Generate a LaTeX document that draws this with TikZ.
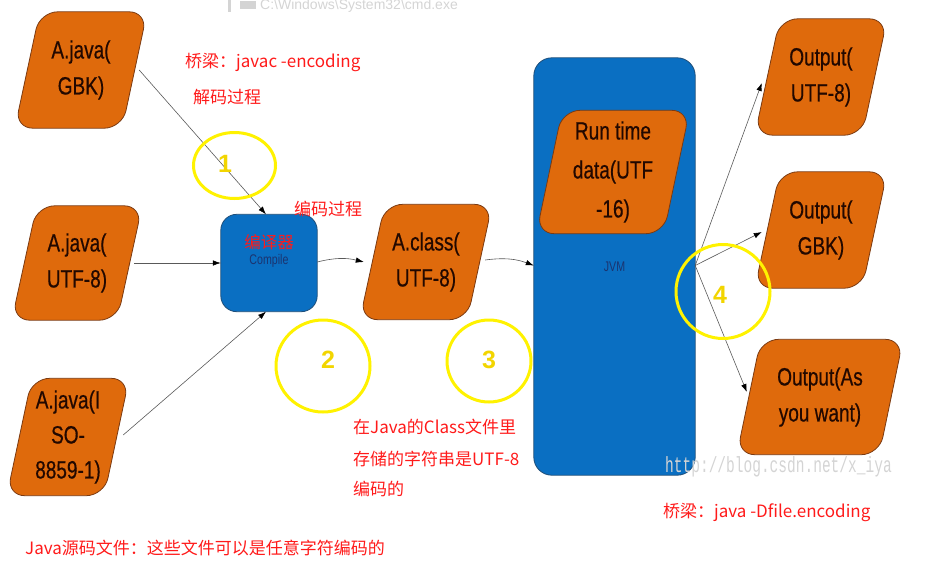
\documentclass[tikz,border=0pt]{standalone}
\usepackage{fontspec}
\setmainfont{Liberation Sans}
\newfontfamily\narrowfont[FakeStretch=0.76,FakeBold=0.5]{Liberation Sans}
\newfontfamily\smallnarrow[FakeStretch=0.76]{Liberation Sans}
\newfontfamily\cjkfont{Noto Sans CJK SC}
\newfontfamily\wmfont[FakeStretch=0.66]{Liberation Mono}
\usetikzlibrary{calc,arrows.meta,backgrounds}
\definecolor{paraorange}{HTML}{DF6A0C}
\definecolor{parabrown}{HTML}{7A3A12}
\definecolor{boxblue}{HTML}{0A6FC2}
\definecolor{boxedge}{HTML}{1F4E79}
\definecolor{notered}{HTML}{FF1A1A}
\definecolor{ringyellow}{HTML}{FFF200}
\definecolor{numyellow}{HTML}{F2D500}
\definecolor{navytext}{HTML}{1B3470}
\definecolor{textdark}{HTML}{220800}
\definecolor{faintgray}{HTML}{D4D4D4}
\tikzset{
  paranode/.style={inner sep=0pt, align=center, text=textdark,
    font=\narrowfont\fontsize{25}{36}\selectfont},
  parafill/.style={fill=paraorange, draw=parabrown, line width=0.8pt, rounded corners=18pt},
  bluebox/.style={fill=boxblue, draw=boxedge, line width=0.8pt},
  conn/.style={draw=black!65, line width=0.6pt, -{Latex[length=8pt,width=5.5pt,color=black]}},
  ring/.style={draw=ringyellow, line width=3pt},
  num/.style={text=numyellow, font=\bfseries\fontsize{25}{25}\selectfont},
  note/.style={text=notered, font=\cjkfont\fontsize{17}{20}\selectfont, anchor=west, inner sep=0pt},
  smalllbl/.style={text=navytext, font=\smallnarrow\fontsize{14}{16}\selectfont, inner sep=0pt},
}
\newcommand\parashape[2][25]{\path[parafill] ($(#2.north west)+(#1,0)$) -- (#2.north east) -- ($(#2.south east)+(-#1,0)$) -- (#2.south west) -- cycle;}
\begin{document}
\begin{tikzpicture}[x=1pt,y=-1pt]
\useasboundingbox (0,0) rectangle (946,568);

% faint screenshot residue
\fill[faintgray] (228,0) rectangle (231,12);
\fill[faintgray] (240,1) rectangle (256,9);
\node[text=faintgray, font=\fontsize{14}{16}\selectfont, anchor=west, inner sep=0pt] (cmdtxt) at (260,6) {C:\textbackslash Windows\textbackslash System32\textbackslash cmd.exe};

% source files
\node[paranode, minimum width=132pt, minimum height=116pt] (gbk) at (81,70) {A.java(\\GBK)};
\node[paranode, minimum width=130pt, minimum height=114pt] (utf) at (77,263) {A.java(\\UTF-8)};
\node[paranode, minimum width=122pt, minimum height=117pt, font=\narrowfont\fontsize{25}{35}\selectfont] (iso) at (68,437) {A.java(I\\SO-\\8859-1)};

% compiler
\node[minimum width=96pt, minimum height=97pt, inner sep=0pt] (comp) at (269,263) {};
\node[align=center, inner sep=0pt] (comptxt) at ([yshift=12pt]comp.center)
  {{\cjkfont\color{notered}\fontsize{16.5}{18}\selectfont 编译器}\\[4pt]{\smallnarrow\color{navytext}\fontsize{14}{16}\selectfont Compile}};

% class file
\node[paranode, minimum width=132pt, minimum height=115pt] (cls) at (426,262) {A.class(\\UTF-8)};

% JVM
\node[smalllbl, minimum width=161pt, minimum height=417pt] (jvm) at (614.5,266.5) {JVM};
\node[paranode, minimum width=153pt, minimum height=123pt, font=\narrowfont\fontsize{25}{39}\selectfont] (rt) at (613,172) {Run time\\data(UTF\\-16)};

% outputs
\node[paranode, minimum width=132pt, minimum height=116pt] (out1) at (821,77) {Output(\\UTF-8)};
\node[paranode, minimum width=132pt, minimum height=116pt] (out2) at (821,230) {Output(\\GBK)};
\node[paranode, minimum width=166pt, minimum height=115pt] (out3) at (820,397) {Output(As\\you want)};

\begin{scope}[on background layer]
  \path[bluebox, rounded corners=16pt] (comp.north west) rectangle (comp.south east);
  \path[bluebox, rounded corners=18pt] (jvm.north west) rectangle (jvm.south east);
  \parashape{gbk}
  \parashape{utf}
  \parashape{iso}
  \parashape{cls}
  \parashape[26]{rt}
  \parashape{out1}
  \parashape{out2}
  \parashape[24]{out3}
\end{scope}

% connectors
\draw[conn] ([xshift=-8pt]gbk.east) -- ([xshift=-3pt]comp.north);
\draw[conn] ([xshift=-8pt]utf.east) -- (comp.west);
\draw[conn] ([xshift=-6pt,yshift=2pt]iso.east) -- ([xshift=-3pt]comp.south);
\draw[conn] ([yshift=1pt]comp.east) to[bend left=14] ([xshift=4pt]cls.west);
\draw[conn] ([xshift=-7pt,yshift=2pt]cls.east) to[bend left=14] ([yshift=1pt]jvm.west);
\draw[conn] ([yshift=1pt]jvm.east) -- ([xshift=7pt,yshift=-6pt]out1.west);
\draw[conn] ([yshift=1pt]jvm.east) -- ([xshift=7pt,yshift=-2pt]out2.west);
\draw[conn] ([yshift=1pt]jvm.east) -- ([xshift=10pt,yshift=5pt]out3.west);

% yellow rings and numbers
\draw[ring] (234.5,165.5) ellipse [x radius=41pt, y radius=33pt];
\draw[ring] (323,366) ellipse [x radius=47pt, y radius=46pt];
\draw[ring] (489,361) ellipse [x radius=42pt, y radius=41pt];
\draw[ring] (723,291.5) ellipse [x radius=47pt, y radius=47pt];
\node[num] (n1) at (225,164) {1};
\node[num] (n2) at (328,360) {2};
\node[num] (n3) at (489,360) {3};
\node[num] (n4) at (720,295) {4};

% red notes
\node[note] (bridge1) at (185,62) {桥梁：javac -encoding};
\node[note] (decode) at (193,97) {解码过程};
\node[note] (encode) at (294,209) {编码过程};
\node[note] (clsnote1) at (353,427) {在Java的Class文件里};
\node[note] (clsnote2) at (353,459) {存储的字符串是UTF-8};
\node[note] (clsnote3) at (353,489) {编码的};
\node[note] (srcnote) at (25,548) {Java源码文件：这些文件可以是任意字符编码的};
\node[note] (bridge2) at (663,512) {桥梁：java -Dfile.encoding};

% watermark
\node[text=faintgray, font=\wmfont\fontsize{22}{24}\selectfont, anchor=west, inner sep=0pt] (wm) at (665,467) {http://blog.csdn.net/x\_iya};
\end{tikzpicture}
\end{document}
